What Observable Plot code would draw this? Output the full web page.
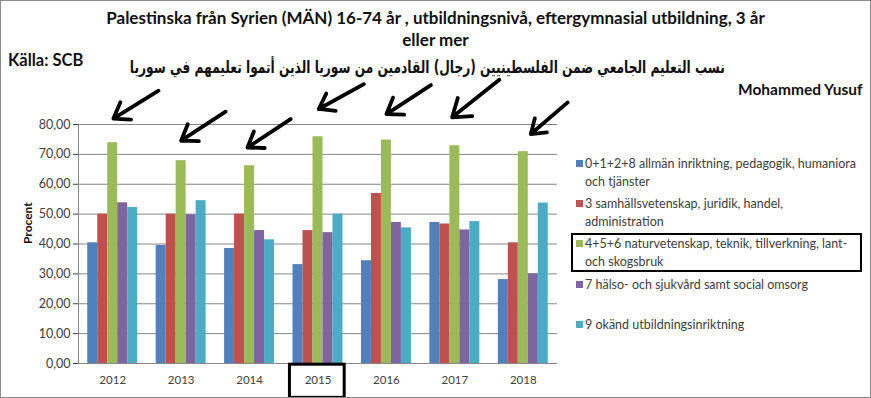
<!DOCTYPE html>
<html>
<head>
<meta charset="utf-8">
<script src="https://cdn.jsdelivr.net/npm/d3@7"></script>
<script src="https://cdn.jsdelivr.net/npm/@observablehq/plot@0.6"></script>
<style>
  html, body { margin: 0; padding: 0; background: #fff; }
  #wrap { position: relative; width: 871px; height: 398px; overflow: hidden; font-family: Lato, "Open Sans", sans-serif; }
  #border { position: absolute; left: 0; top: 0; width: 869px; height: 396px; border: 1px solid #8a8a8a; pointer-events: none; }
  #chart { position: absolute; left: 0; top: 0; }
  .t { position: absolute; white-space: nowrap; color: #111; }
  #title { left: 0; width: 871px; top: 7px; text-align: center; font-weight: 700; font-size: 17px; line-height: 22px; }
  #source { left: 8px; top: 50px; font-weight: 700; font-size: 16.5px; }
  #arabic { right: 146px; top: 57px; font-family: "DejaVu Sans", sans-serif; font-weight: 700; font-size: 17px; direction: rtl; transform-origin: right center; }
  #author { left: 738px; top: 80px; font-weight: 700; font-size: 15.5px; }
  .leg { position: absolute; left: 576px; font-size: 12.5px; line-height: 17.5px; color: #404040; }
  .leg .sw { position: absolute; left: 0; top: 5px; width: 7px; height: 7px; }
  .leg .lbl { position: absolute; left: 9px; top: 0; white-space: pre; }
  #legbox { position: absolute; left: 571px; top: 233px; width: 287px; height: 35px; border: 2.5px solid #000; }
  [aria-label^="x-axis"] text { font-size: 11.5px; }
  [aria-label^="y-axis"] text { font-size: 12.5px; }
</style>
</head>
<body>
<div id="wrap">
  <div id="chart"></div>
  <div id="title" class="t">Palestinska från Syrien (MÄN) 16-74 år , utbildningsnivå, eftergymnasial utbildning, 3 år<br>eller mer</div>
  <div id="source" class="t">Källa: SCB</div>
  <div id="arabic" class="t">نسب التعليم الجامعي ضمن الفلسطينيين (رجال) القادمين من سوريا الذين أتموا تعليمهم في سوريا</div>
  <div id="author" class="t">Mohammed Yusuf</div>
  <div id="legend"></div>
  <div id="legbox"></div>
  <div id="border"></div>
</div>
<script>
// ---- data ----
const years = [2012, 2013, 2014, 2015, 2016, 2017, 2018];
const seriesNames = [
  "0+1+2+8 allmän inriktning, pedagogik, humaniora\noch tjänster",
  "3 samhällsvetenskap, juridik, handel,\nadministration",
  "4+5+6 naturvetenskap, teknik, tillverkning, lant-\noch skogsbruk",
  "7 hälso- och sjukvård samt social omsorg",
  "9 okänd utbildningsinriktning"
];
const seriesGeneral = [40.4, 39.5, 38.5, 33.1, 34.4, 47.2, 28.1];
const seriesSocial  = [50.0, 50.0, 50.0, 44.5, 56.9, 46.7, 40.4];
const seriesTech    = [73.9, 67.9, 66.2, 75.9, 74.8, 72.9, 70.9];
const seriesHealth  = [53.8, 49.8, 44.5, 43.8, 47.2, 44.7, 30.0];
const seriesUnknown = [52.2, 54.5, 41.4, 50.0, 45.4, 47.5, 53.7];
const colors = ["#4F81BD", "#C0504D", "#9BBB59", "#8064A2", "#4BACC6"];
const yTicks = [0, 10, 20, 30, 40, 50, 60, 70, 80];
const highlightYear = 2015;
// annotation arrows (data units: year, percent)
const arrowTailX = [2012.67, 2013.65, 2014.60, 2015.67, 2016.65, 2017.65, 2018.65];
const arrowTailY = [91.3, 84.3, 81.8, 93.5, 93.2, 95.0, 87.4];
const arrowTipX  = [2012.01, 2013.00, 2013.97, 2015.01, 2016.00, 2016.96, 2018.11];
const arrowTipY  = [82.0, 74.6, 72.3, 85.2, 83.5, 82.4, 76.8];

// ---- build table ----
const allSeries = [seriesGeneral, seriesSocial, seriesTech, seriesHealth, seriesUnknown];
const nS = allSeries.length;
const groupWidth = 0.73;
const barW = groupWidth / nS;
const rows = [];
allSeries.forEach((vals, si) => {
  vals.forEach((v, yi) => {
    const x1 = years[yi] - groupWidth / 2 + si * barW;
    rows.push({series: si, year: years[yi], value: v, x1, x2: x1 + barW});
  });
});
const arrows = years.map((y, i) => ({x1: arrowTailX[i], y1: arrowTailY[i], x2: arrowTipX[i], y2: arrowTipY[i]}));
const xDomain = [years[0] - 0.5, years[years.length - 1] + 0.5];

const fmt = v => v.toFixed(2).replace(".", ",");

const chart = Plot.plot({
  width: 871,
  height: 398,
  marginLeft: 78,
  marginRight: 314,
  marginTop: 124,
  marginBottom: 35,
  style: {fontFamily: "Lato, 'Open Sans', sans-serif", fontSize: "12px", color: "#404040", background: "transparent"},
  x: {type: "linear", domain: xDomain, ticks: years, tickFormat: d3.format("d"), tickSize: 0, tickPadding: 12, label: null},
  y: {domain: [0, 80], ticks: yTicks, tickFormat: fmt, tickSize: 5, tickPadding: 3, label: null},
  marks: [
    Plot.ruleY(yTicks, {stroke: "#878787", strokeWidth: 1}),
    Plot.ruleX([xDomain[0]], {y1: 0, y2: 80, stroke: "#878787", strokeWidth: 1}),
    Plot.rectY(rows, {x1: "x1", x2: "x2", y: "value", fill: d => colors[d.series]}),
    Plot.arrow(arrows, {x1: "x1", y1: "y1", x2: "x2", y2: "y2", stroke: "#000", strokeWidth: 3.8, headLength: 14, headAngle: 70}),
    Plot.rect([highlightYear], {x1: d => d - 0.41, x2: d => d + 0.39, y1: () => -0.4, y2: () => -11.5, fill: "none", stroke: "#000", strokeWidth: 3}),
    Plot.text(["Procent"], {frameAnchor: "left", rotate: -90, dx: -50, fontWeight: "bold", fontSize: 12, fill: "#111"})
  ]
});
document.getElementById("chart").appendChild(chart);

// ---- legend ----
const legendTops = [155, 195, 235, 276, 316];
const legend = document.getElementById("legend");
seriesNames.forEach((name, i) => {
  const d = document.createElement("div");
  d.className = "leg";
  d.style.top = legendTops[i] + "px";
  const sw = document.createElement("div");
  sw.className = "sw";
  sw.style.background = colors[i];
  const lbl = document.createElement("div");
  lbl.className = "lbl";
  lbl.textContent = name;
  d.appendChild(sw);
  d.appendChild(lbl);
  legend.appendChild(d);
});

// fit Arabic subtitle into its span (right edge ~725px, width ~595px)
const ar = document.getElementById("arabic");
const arW = ar.getBoundingClientRect().width;
if (arW > 0) ar.style.transform = `scaleX(${595 / arW})`;
</script>
</body>
</html>
